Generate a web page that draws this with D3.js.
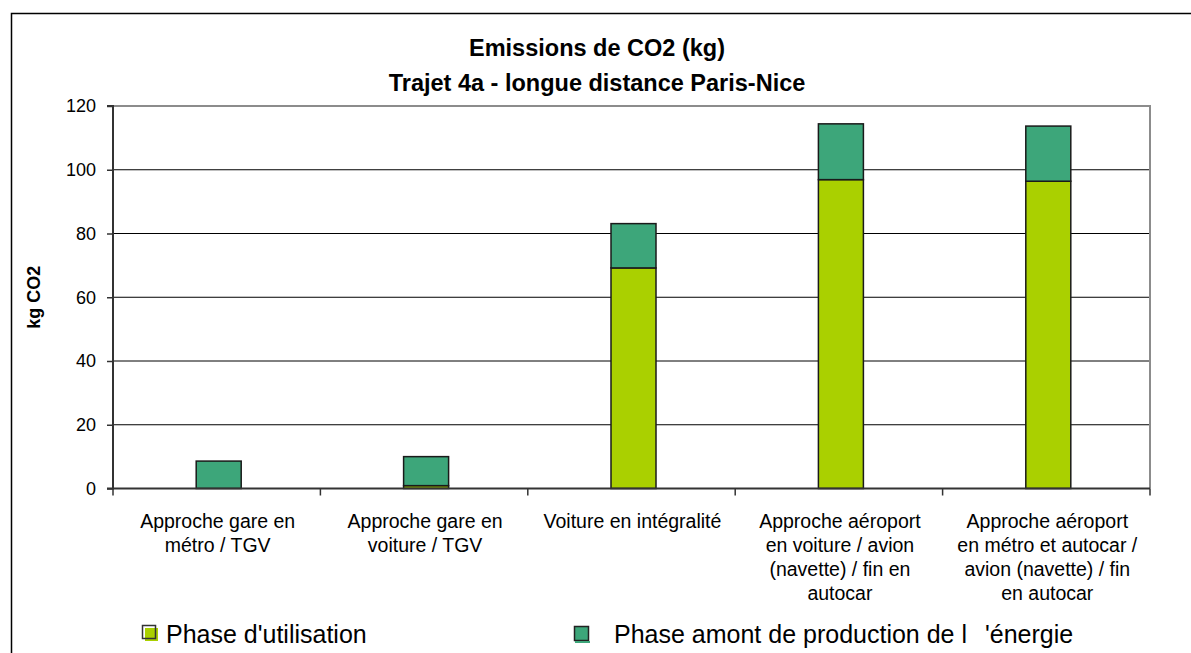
<!DOCTYPE html>
<html>
<head>
<meta charset="utf-8">
<script src="https://cdn.jsdelivr.net/npm/d3@7/dist/d3.min.js"></script>
<style>
  html, body { margin: 0; padding: 0; background: #fff; }
  svg { display: block; font-family: "Liberation Sans", Arial, sans-serif; }
</style>
</head>
<body>
<svg id="chart" width="1191" height="653"></svg>
<script>
// Trajet 4a – CO2 emissions per travel option (kg)
const categories = [
  ["Approche gare en", "métro / TGV"],
  ["Approche gare en", "voiture / TGV"],
  ["Voiture en intégralité"],
  ["Approche aéroport", "en voiture / avion", "(navette) / fin en", "autocar"],
  ["Approche aéroport", "en métro et autocar /", "avion (navette) / fin", "en autocar"]
];
const seriesNames = ["Phase d'utilisation", "Phase amont de production de l", "'énergie"];
const utilisation = [0, 0.9, 69.2, 96.9, 96.4];
const amont = [8.6, 9.1, 13.9, 17.5, 17.3];
const yTicks = [0, 20, 40, 60, 80, 100, 120];
const titleLines = ["Emissions de CO2 (kg)", "Trajet 4a - longue distance Paris-Nice"];
const yTitle = "kg CO2";

const colUtil = "#AAD000";
const colAmont = "#3DA67A";

const svg = d3.select("#chart");
const plot = { left: 113, right: 1150, top: 106, bottom: 488.5 };

// outer frame (runs off the right and bottom edges)
svg.append("rect")
  .attr("x", 11.5).attr("y", 13.5)
  .attr("width", 1300).attr("height", 800)
  .attr("fill", "#fff").attr("stroke", "#000").attr("stroke-width", 1.5);

const x = d3.scaleBand()
  .domain(d3.range(categories.length))
  .range([plot.left, plot.right])
  .paddingInner(0).paddingOuter(0);

const y = d3.scaleLinear().domain([0, 120]).range([plot.bottom, plot.top]);

// gridlines
svg.append("g")
  .selectAll("line")
  .data(yTicks.filter(d => d > 0 && d < 120))
  .join("line")
  .attr("x1", plot.left).attr("x2", plot.right)
  .attr("y1", d => y(d)).attr("y2", d => y(d))
  .attr("stroke", "#000").attr("stroke-width", 1);

// plot-area border top/right
svg.append("path")
  .attr("d", `M${plot.left},${y(120)}H${plot.right}V${plot.bottom}`)
  .attr("fill", "none").attr("stroke", "#8c8c8c").attr("stroke-width", 2);

// stacked bars
const stack = categories.map((c, i) => ({ i, u: utilisation[i], a: amont[i] }));
const barW = 45;
const bx = i => x(i) + x.bandwidth() / 2 - barW / 2 + 2;

const bars = svg.append("g");
bars.selectAll("rect.util")
  .data(stack.filter(d => d.u > 0))
  .join("rect")
  .attr("class", "util")
  .attr("x", d => bx(d.i)).attr("width", barW)
  .attr("y", d => y(d.u)).attr("height", d => y(0) - y(d.u))
  .attr("fill", colUtil).attr("stroke", "#1a1a1a").attr("stroke-width", 1.5);
bars.selectAll("rect.amont")
  .data(stack)
  .join("rect")
  .attr("class", "amont")
  .attr("x", d => bx(d.i)).attr("width", barW)
  .attr("y", d => y(d.u + d.a)).attr("height", d => y(d.u) - y(d.u + d.a))
  .attr("fill", colAmont).attr("stroke", "#1a1a1a").attr("stroke-width", 1.5);

// y axis
const yAxis = d3.axisLeft(y).tickValues(yTicks).tickSize(6).tickPadding(11);
const gy = svg.append("g").attr("transform", `translate(${plot.left},0)`).call(yAxis);
gy.select(".domain").attr("stroke", "#333").attr("stroke-width", 2).attr("d", `M-6,${y(120)}H0V${y(0)}H-6`);
gy.selectAll(".tick line").attr("stroke", "#333").attr("stroke-width", 1.5);
gy.selectAll(".tick text")
  .attr("font-size", 18).attr("fill", "#000")
  .attr("font-family", "Liberation Sans, Arial, sans-serif");

// x axis line and band-boundary ticks
svg.append("line")
  .attr("x1", plot.left).attr("x2", plot.right)
  .attr("y1", y(0)).attr("y2", y(0))
  .attr("stroke", "#333").attr("stroke-width", 2);
svg.append("g")
  .selectAll("line")
  .data(d3.range(categories.length + 1))
  .join("line")
  .attr("x1", i => plot.left + i * x.bandwidth())
  .attr("x2", i => plot.left + i * x.bandwidth())
  .attr("y1", y(0)).attr("y2", y(0) + 7)
  .attr("stroke", "#333").attr("stroke-width", 1.5);

// category labels
const lab = svg.append("g").attr("font-size", 19.5).attr("text-anchor", "middle").attr("fill", "#000");
categories.forEach((lines, i) => {
  const cx = x(i) + x.bandwidth() / 2 + 1;
  const t = lab.append("text").attr("x", cx).attr("y", 528);
  lines.forEach((ln, k) => {
    t.append("tspan")
      .attr("x", cx)
      .attr("dy", k === 0 ? 0 : 24)
      .text(ln);
  });
});

// titles
const tg = svg.append("g").attr("text-anchor", "middle").attr("font-weight", "bold").attr("font-size", 23.5);
titleLines.forEach((t, k) => {
  tg.append("text").attr("x", 597).attr("y", 55.5 + k * 35).text(t);
});

// y axis title
svg.append("text")
  .attr("transform", `translate(40,${(plot.top + plot.bottom) / 2}) rotate(-90)`)
  .attr("text-anchor", "middle").attr("font-weight", "bold").attr("font-size", 18)
  .text(yTitle);

// legend
const lg = svg.append("g").attr("font-size", 25);
lg.append("rect").attr("x", 145).attr("y", 628).attr("width", 13).attr("height", 13)
  .attr("fill", colUtil).attr("stroke", "none");
lg.append("rect").attr("x", 142.5).attr("y", 625.5).attr("width", 13).attr("height", 13)
  .attr("fill", "none").attr("stroke", "#333").attr("stroke-width", 1.5);
lg.append("text").attr("x", 166).attr("y", 643).text(seriesNames[0]);

lg.append("rect").attr("x", 574.5).attr("y", 626.5).attr("width", 14).attr("height", 14)
  .attr("fill", colAmont).attr("stroke", "#222").attr("stroke-width", 1.5);
lg.append("line").attr("x1", 575).attr("x2", 590).attr("y1", 642).attr("y2", 642)
  .attr("stroke", colAmont).attr("stroke-width", 2);
const lt = lg.append("text").attr("x", 614).attr("y", 643);
lt.append("tspan").text(seriesNames[1]);
lt.append("tspan").attr("x", 985).text(seriesNames[2]);
</script>
</body>
</html>
